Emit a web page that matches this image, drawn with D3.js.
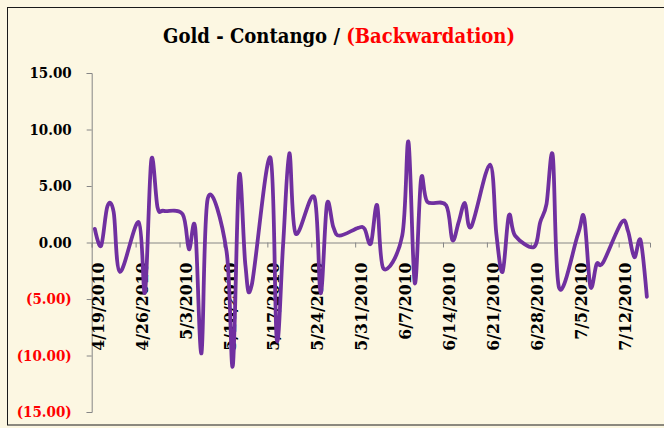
<!DOCTYPE html>
<html>
<head>
<meta charset="utf-8">
<script src="https://cdn.jsdelivr.net/npm/d3@7"></script>
<style>
  html, body { margin: 0; padding: 0; background: #FCF7E2; }
  svg { display: block; }
</style>
</head>
<body>
<svg id="chart" width="664" height="428"></svg>
<script>
// ---- data ----
const dates = [
  "2010-04-19","2010-04-20","2010-04-21","2010-04-22","2010-04-23",
  "2010-04-26","2010-04-27","2010-04-28","2010-04-29","2010-04-30",
  "2010-05-03","2010-05-04","2010-05-05","2010-05-06","2010-05-07",
  "2010-05-10","2010-05-11","2010-05-12","2010-05-13","2010-05-14",
  "2010-05-17","2010-05-18","2010-05-19","2010-05-20","2010-05-21",
  "2010-05-24","2010-05-25","2010-05-26","2010-05-27","2010-05-28",
  "2010-05-31","2010-06-01","2010-06-02","2010-06-03","2010-06-04",
  "2010-06-07","2010-06-08","2010-06-09","2010-06-10","2010-06-11",
  "2010-06-14","2010-06-15","2010-06-16","2010-06-17","2010-06-18",
  "2010-06-21","2010-06-22","2010-06-23","2010-06-24","2010-06-25",
  "2010-06-28","2010-06-29","2010-06-30","2010-07-01","2010-07-02",
  "2010-07-05","2010-07-06","2010-07-07","2010-07-08","2010-07-09",
  "2010-07-12","2010-07-13","2010-07-14","2010-07-15","2010-07-16"
];
const values = [
  1.2, -0.3, 3.2, 2.7, -2.6,
  1.8, -4.4, 7.3, 3.1, 2.8,
  2.5, -0.6, 1.3, -9.8, 3.9,
  -0.8, -10.9, 5.9, -2.0, -3.8,
  7.5, -8.6, -0.3, 7.9, 0.8,
  4.0, -4.5, 3.4, 1.4, 0.6,
  1.3, 1.2, -0.1, 3.3, -2.3,
  0.6, 8.9, -3.6, 5.6, 3.6,
  3.3, 0.2, 1.8, 3.5, 1.4,
  6.9, 0.8, -2.6, 2.4, 0.6,
  -0.4, 1.8, 3.4, 7.7, -4.0,
  0.7, 2.2, -3.9, -1.9, -1.8,
  1.8, 1.0, -1.3, 0.2, -4.8
];
const xTickDates = ["2010-04-19","2010-04-26","2010-05-03","2010-05-10","2010-05-17","2010-05-24",
  "2010-05-31","2010-06-07","2010-06-14","2010-06-21","2010-06-28","2010-07-05","2010-07-12"];
const xTickLabels = ["4/19/2010","4/26/2010","5/3/2010","5/10/2010","5/17/2010","5/24/2010",
  "5/31/2010","6/7/2010","6/14/2010","6/21/2010","6/28/2010","7/5/2010","7/12/2010"];
const yTicks = [15, 10, 5, 0, -5, -10, -15];
const yTickLabels = ["15.00","10.00","5.00","0.00","(5.00)","(10.00)","(15.00)"];
const titleParts = ["Gold - Contango / ", "(Backwardation)"];

// ---- drawing ----
const svg = d3.select("#chart");
const parse = d3.utcParse("%Y-%m-%d");
const half = 12 * 3600 * 1000;

svg.append("rect").attr("x", 0).attr("y", 0).attr("width", 664).attr("height", 428).attr("fill", "#FCF7E2");
svg.append("rect").attr("x", 7.5).attr("y", 7.5).attr("width", 670).attr("height", 417.5)
  .attr("fill", "none").attr("stroke", "#1a1a1a").attr("stroke-width", 1);

const x = d3.scaleUtc()
  .domain([parse("2010-04-19"), parse("2010-07-17")])
  .range([91.7, 650]);
const y = d3.scaleLinear().domain([-15, 15]).range([412, 73]);

const font = "'DejaVu Serif Condensed', 'DejaVu Serif', serif";

// y axis
const yAxis = d3.axisLeft(y).tickValues(yTicks).tickSize(5).tickFormat((d, i) => yTickLabels[i]);
const gy = svg.append("g").attr("transform", "translate(91.7,0)").call(yAxis);
gy.select(".domain").attr("stroke", "#868686");
gy.selectAll(".tick line").attr("stroke", "#868686");
gy.selectAll(".tick text")
  .attr("x", -20)
  .attr("font-family", font).attr("font-stretch", "condensed").attr("font-weight", "bold").attr("font-size", 15)
  .attr("fill", d => d < 0 ? "#FF0000" : "#000000");

// x axis at zero
const xAxis = d3.axisBottom(x).tickValues(xTickDates.map(parse)).tickSize(5).tickFormat((d, i) => xTickLabels[i]);
const gx = svg.append("g").attr("transform", `translate(0,${y(0)})`).call(xAxis);
gx.select(".domain").attr("stroke", "#868686");
gx.selectAll(".tick line").attr("stroke", "#868686");
gx.selectAll(".tick text")
  .attr("transform", "rotate(-90)")
  .attr("x", -20).attr("y", 5.5).attr("dy", "0.35em")
  .attr("text-anchor", "end")
  .attr("font-family", font).attr("font-stretch", "condensed").attr("font-weight", "bold").attr("font-size", 17.5)
  .attr("fill", "#000");

// line
const data = dates.map((d, i) => ({ date: new Date(parse(d).getTime() + half), value: values[i] }));
const line = d3.line()
  .x(d => x(d.date))
  .y(d => y(d.value))
  .curve(d3.curveCatmullRom.alpha(0));
svg.append("path").datum(data)
  .attr("d", line)
  .attr("fill", "none")
  .attr("stroke", "#7030A0")
  .attr("stroke-width", 3.8)
  .attr("stroke-linejoin", "round")
  .attr("stroke-linecap", "round");

// title
const title = svg.append("text")
  .attr("x", 339).attr("y", 43)
  .attr("text-anchor", "middle")
  .attr("textLength", 352).attr("lengthAdjust", "spacingAndGlyphs")
  .attr("font-family", font).attr("font-stretch", "condensed").attr("font-weight", "bold").attr("font-size", 20.5);
title.append("tspan").attr("fill", "#000").text(titleParts[0]);
title.append("tspan").attr("fill", "#FF0000").text(titleParts[1]);
</script>
</body>
</html>
